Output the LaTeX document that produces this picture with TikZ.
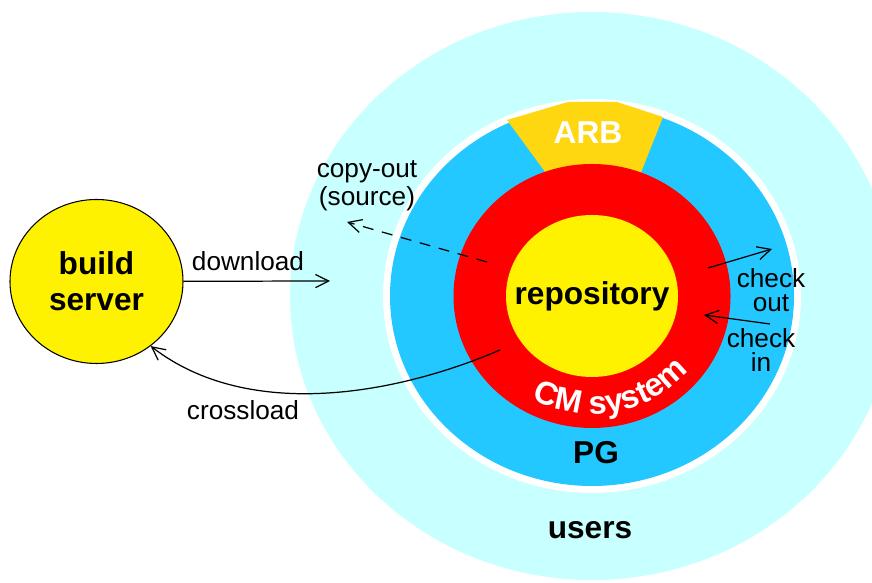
\documentclass[tikz,border=0pt]{standalone}
\usepackage{fontspec}
\setmainfont{Liberation Sans}
\usetikzlibrary{arrows.meta,shapes.geometric,decorations.text}

\definecolor{userscyan}{RGB}{200,255,255}
\definecolor{pgblue}{RGB}{34,200,255}
\definecolor{arbgold}{RGB}{255,215,16}

\tikzset{
  boldlabel/.style={font=\fontsize{18}{20.5}\selectfont\bfseries, align=center},
  plainlabel/.style={font=\fontsize{14.9}{13.8}\selectfont, align=center},
  flow/.style={-{Straight Barb[length=7.5pt,width=7.5pt]}, line width=0.7pt},
}

\begin{document}
\begin{tikzpicture}[x=0.2mm,y=0.2mm]
    \useasboundingbox (0,0) rectangle (872,583);
    %% Rings
    \fill[userscyan] (592,287) ellipse [x radius=302, y radius=284];
    \fill[white] (592,287) ellipse [x radius=209, y radius=197];
    \fill[pgblue] (592,287) ellipse [x radius=202, y radius=190];
    \fill[arbgold] (507,463) -- (568,481) -- (617,481) -- (663,466) -- (638,403) -- (551,403) -- cycle;
    \fill[red] (592,287) ellipse [x radius=138.5, y radius=132];
    \fill[yellow] (592,287) ellipse [x radius=86, y radius=81];
    %% Repository and build server
    \node[boldlabel] (repo) at (592,287) {repository};
    \node[ellipse,draw,line width=0.6pt,fill=yellow,minimum width=3.46cm,minimum height=3.28cm,inner sep=0pt,boldlabel] (bs) at (96.5,301.5) {build\\server};
    %% Ring labels
    \node[boldlabel] (users) at (590,53) {users};
    \node[boldlabel] (pg) at (596,130) {PG};
    \node[boldlabel,text=white] (arb) at (588,450) {ARB};
    \path[decorate,decoration={text along path,text align=center,text color=white,
        text={|\fontsize{18.5}{20}\selectfont\bfseries|CM system}}]
        (592,287) ++(-129:125 and 118) arc[start angle=-129,end angle=-29,x radius=125,y radius=118];
    %% Download
    \coordinate (dlend) at (330,302);
    \draw[flow] (bs) -- (dlend);
    \node[plainlabel] (dl) at (248,322) {download};
    %% Copy-out
    \coordinate (costart) at (487,321);
    \coordinate (coend) at (347,361);
    \draw[flow,dash pattern=on 6.2pt off 5pt] (costart) -- (coend);
    \node[plainlabel,font=\fontsize{14.9}{15.9}\selectfont] (co) at (367,397) {copy-out\\(source)};
    %% Check out / check in
    \coordinate (chostart) at (708,315);
    \coordinate (choend) at (772,334);
    \draw[flow] (chostart) -- (choend);
    \node[plainlabel] (cho) at (771,293) {check\\out};
    \coordinate (chistart) at (770,259);
    \coordinate (chiend) at (704,268);
    \draw[flow] (chistart) -- (chiend);
    \node[plainlabel] (chi) at (761,233) {check\\in};
    %% Crossload
    \coordinate (clstart) at (500,233);
    \draw[flow] (clstart) .. controls (400,190) and (250,160) .. (bs.-50);
    \node[plainlabel] (cl) at (243,173) {crossload};
\end{tikzpicture}
\end{document}
